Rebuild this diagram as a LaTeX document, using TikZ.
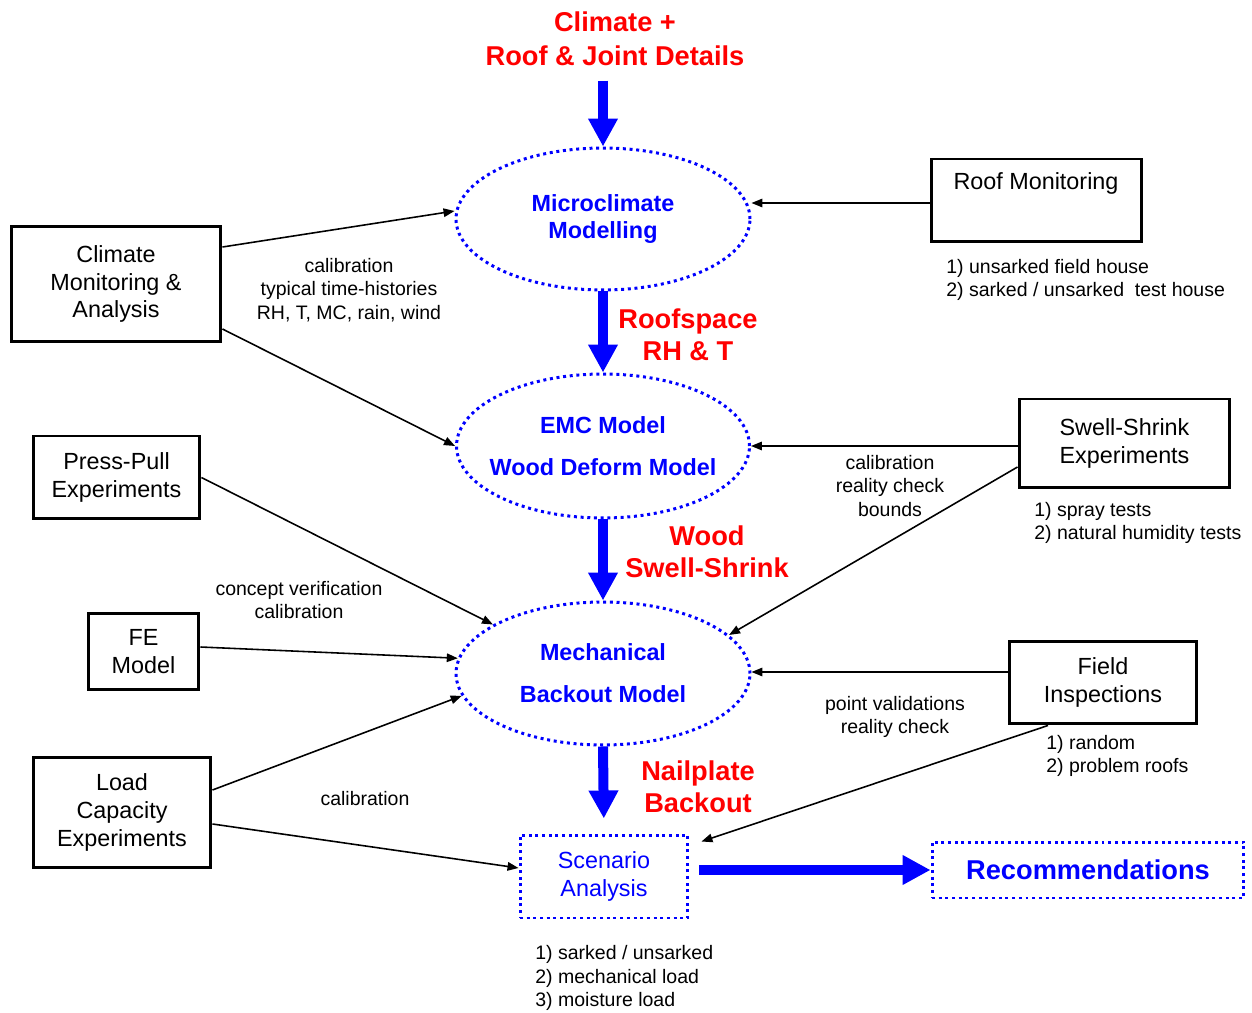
\documentclass[tikz,border=0pt]{standalone}
\usepackage{fontspec}
\setmainfont{Liberation Sans}
\usetikzlibrary{arrows.meta,shapes,positioning}

\begin{document}
\begin{tikzpicture}[x=0.02cm,y=-0.02cm,
    box/.style={draw,line width=1.7pt,align=center,inner sep=0pt,
        font=\fontsize{13.3}{15.9}\selectfont},
    ell/.style={ellipse,draw=blue,line width=1.7pt,dash pattern=on 1.7pt off 2.1pt,
        text=blue,align=center,inner ysep=0pt,inner xsep=-0.6cm,
        font=\fontsize{13.3}{15.9}\selectfont\bfseries},
    dotbox/.style={draw=blue,line width=1.7pt,dash pattern=on 1.7pt off 2.1pt,
        text=blue,align=center,inner sep=0pt},
    note/.style={align=center,inner sep=0pt,font=\fontsize{11.1}{13.3}\selectfont},
    lnote/.style={note,align=left,anchor=west},
    redlab/.style={text=red,align=center,inner sep=0pt,
        font=\fontsize{15.5}{18.5}\selectfont\bfseries},
    conn/.style={-{Triangle[length=0.22cm,width=0.17cm]},line width=0.9pt},
    flow/.style={blue,line width=0.2cm,-{Triangle[length=0.56cm,width=0.56cm]}}]

    \useasboundingbox (0,0) rectangle (1252,1013);

    % the models
    \node[ell,minimum width=5.88cm,minimum height=2.84cm] (e1) at (603,219)
        {Microclimate\\Modelling};
    \node[ell,minimum width=5.86cm,minimum height=2.88cm] (e2) at (603,446)
        {EMC Model\\[0.28cm]Wood Deform Model};
    \node[ell,minimum width=5.88cm,minimum height=2.86cm] (e3) at (603,673.5)
        {Mechanical\\[0.28cm]Backout Model};
    \node[dotbox,minimum width=3.36cm,minimum height=1.66cm,
        font=\fontsize{13.3}{15.9}\selectfont] (scen) at (604,876.5)
        {Scenario\\Analysis};
    \node[dotbox,minimum width=6.24cm,minimum height=1.12cm,
        font=\fontsize{15.5}{18.5}\selectfont\bfseries] (recom) at (1088,870)
        {Recommendations};

    % the boxes
    \node[box,minimum width=4.2cm,minimum height=2.32cm] (clim) at (116,284)
        {Climate\\Monitoring \&\\Analysis};
    \node[box,minimum width=4.22cm,minimum height=1.66cm] (roofmon) at (1036.5,200.5) {};
    \node[inner sep=0pt,font=\fontsize{13.3}{15.9}\selectfont] (roofmontxt) at (1036,183)
        {Roof Monitoring};
    \node[box,minimum width=4.22cm,minimum height=1.78cm] (swell) at (1124.5,443.5)
        {Swell-Shrink\\Experiments};
    \node[box,minimum width=3.34cm,minimum height=1.66cm] (press) at (116.5,477.5)
        {Press-Pull\\Experiments};
    \node[box,minimum width=2.22cm,minimum height=1.54cm] (fe) at (143.5,651.5)
        {FE\\Model};
    \node[box,minimum width=3.76cm,minimum height=1.66cm] (field) at (1103,682.5)
        {Field\\Inspections};
    \node[box,minimum width=3.56cm,minimum height=2.22cm] (load) at (122,812.5)
        {Load\\Capacity\\Experiments};

    % the red texts
    \node[redlab,font=\fontsize{15.5}{19.3}\selectfont\bfseries] (title) at (615,39)
        {Climate +\\Roof \& Joint Details};
    \node[redlab] (rhlab) at (688,335) {Roofspace\\RH \& T};
    \node[redlab] (woodlab) at (707,552) {Wood\\Swell-Shrink};
    \node[redlab] (naillab) at (698,787) {Nailplate\\Backout};

    % the notes
    \node[note] (calib1) at (349,290) {calibration\\typical time-histories\\RH, T, MC, rain, wind};
    \node[lnote] (roofnote) at (946,280) {1) unsarked field house\\2) sarked / unsarked~ test house};
    \node[note] (calib2) at (890,486) {calibration\\reality check\\bounds};
    \node[lnote] (swellnote) at (1034,523) {1) spray tests\\2) natural humidity tests};
    \node[note] (concept) at (299,600) {concept verification\\calibration};
    \node[note] (pointval) at (895,717) {point validations\\reality check};
    \node[lnote] (fieldnote) at (1046,756) {1) random\\2) problem roofs};
    \node[note] (calib3) at (365,799) {calibration};
    \node[lnote] (scennote) at (535,978) {1) sarked / unsarked\\2) mechanical load\\3) moisture load};

    % main flow
    \draw[flow] ([yshift=1.32cm]e1.north) -- (e1.north);
    \draw[flow] (e1.south) -- (e2.north);
    \draw[flow] (e2.south) -- (e3.north);
    \draw[flow,shorten >=0.3cm] (e3.south) -- (scen.north);
    \draw[flow,shorten <=0.2cm] (scen.east |- recom.west) -- (recom.west);

    % inputs
    \draw[conn] ([yshift=0.74cm]clim.east) -- ([yshift=0.16cm]e1.west);
    \draw[conn] ([yshift=-0.9cm]clim.east) -- (e2.west);
    \coordinate (roofin) at ([yshift=-0.05cm]roofmon.west);
    \draw[conn] (roofin) -- (roofin -| e1.east);
    \coordinate (swellin) at ([yshift=-0.05cm]swell.west);
    \draw[conn] (swellin) -- (swellin -| e2.east);
    \draw[conn] ([yshift=-0.47cm]swell.west) -- (e3.17);
    \draw[conn] (press.east) -- (e3.156);
    \draw[conn] ([yshift=0.09cm]fe.east) -- (e3.174);
    \coordinate (fieldin) at ([yshift=0.21cm]field.west);
    \draw[conn] (fieldin) -- (fieldin -| e3.east);
    \draw[conn] ([yshift=0.45cm]load.east) -- (e3.189);
    \draw[conn] ([yshift=-0.23cm]load.east) -- ([yshift=0.17cm]scen.west);
    \draw[conn] ([xshift=-1.1cm]field.south) -- ([xshift=0.24cm,yshift=-0.16cm]scen.north east);

\end{tikzpicture}
\end{document}
